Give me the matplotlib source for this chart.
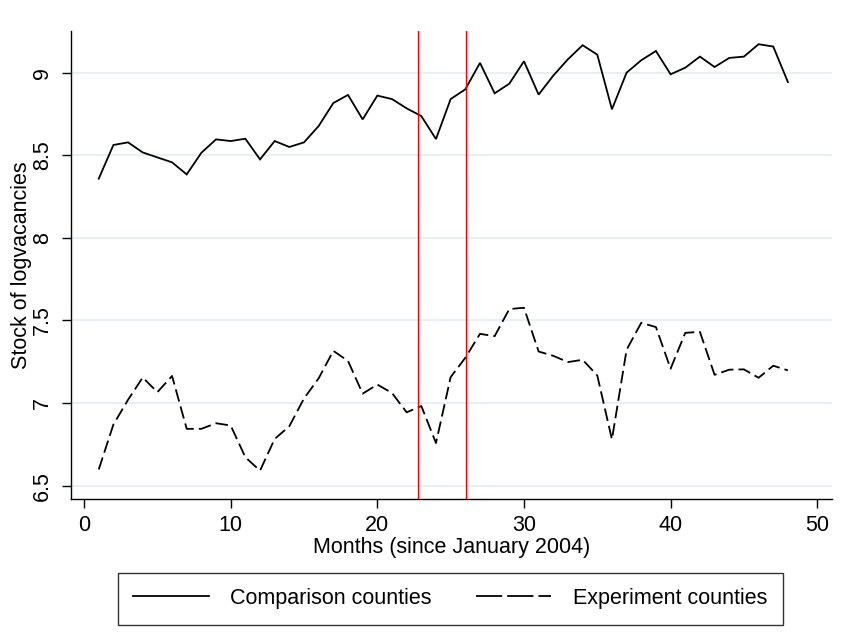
import matplotlib
matplotlib.use("Agg")
import matplotlib.pyplot as plt
from matplotlib.lines import Line2D

plt.rcParams['font.family'] = ['Liberation Sans', 'DejaVu Sans']

months = list(range(1, 49))
comparison = [8.358, 8.562, 8.578, 8.517, 8.487, 8.457, 8.384, 8.515, 8.596, 8.586,
              8.600, 8.475, 8.586, 8.550, 8.578, 8.677, 8.816, 8.865, 8.717, 8.861,
              8.840, 8.784, 8.737, 8.598, 8.840, 8.899, 9.059, 8.875, 8.933, 9.069,
              8.867, 8.982, 9.081, 9.166, 9.109, 8.778, 9.000, 9.075, 9.131, 8.990,
              9.030, 9.097, 9.034, 9.089, 9.097, 9.172, 9.158, 8.943]
experiment = [6.598, 6.870, 7.020, 7.155, 7.066, 7.164, 6.844, 6.844, 6.878, 6.864,
              6.672, 6.591, 6.783, 6.860, 7.028, 7.150, 7.316, 7.255, 7.057, 7.112,
              7.061, 6.944, 6.982, 6.758, 7.157, 7.274, 7.419, 7.405, 7.569, 7.577,
              7.312, 7.286, 7.248, 7.262, 7.167, 6.780, 7.323, 7.486, 7.460, 7.208,
              7.425, 7.431, 7.171, 7.202, 7.204, 7.153, 7.226, 7.198]
event_lines = [22.75, 26.05]
xticks = [0, 10, 20, 30, 40, 50]
yticks = [6.5, 7, 7.5, 8, 8.5, 9]
ytick_labels = ["6.5", "7", "7.5", "8", "8.5", "9"]

fig = plt.figure(figsize=(8.48, 6.38), dpi=100)
ax = fig.add_axes([0.0834, 0.2183, 0.8976, 0.7331])

for y in yticks:
    ax.axhline(y, color='#e4eef1', lw=1.2, zorder=0)

l1, = ax.plot(months, comparison, color='black', lw=1.3, solid_joinstyle='miter')
l2, = ax.plot(months, experiment, color='black', lw=1.3, linestyle=(0, (7, 2.8)))
for xv in event_lines:
    ax.axvline(xv, color='#ff0000', lw=1.0)

ax.set_xlim(-0.91, 51.0)
ax.set_ylim(6.421, 9.252)
ax.set_xticks(xticks)
ax.set_yticks(yticks)
ax.set_yticklabels(ytick_labels, rotation=90, va='center')
ax.tick_params(axis='both', direction='out', length=6.5, width=1, labelsize=15.5, color='black')
ax.tick_params(axis='y', pad=6)
ax.tick_params(axis='x', pad=5)
for s in ['top', 'right']:
    ax.spines[s].set_visible(False)
for s in ['left', 'bottom']:
    ax.spines[s].set_linewidth(1.0)

ax.set_xlabel("Months (since January 2004)", fontsize=15.5, labelpad=1)
ax.set_ylabel("Stock of logvacancies", fontsize=15.5, labelpad=0)

h1 = Line2D([], [], color='black', lw=1.3)
h2 = Line2D([], [], color='black', lw=1.3, linestyle=(0, (14.5, 2.8)))
leg = fig.legend([h1, h2], ["Comparison counties", "Experiment counties"],
                 loc='center', bbox_to_anchor=(0.531, 0.0619), ncol=2,
                 fontsize=15.5, frameon=True, fancybox=False, edgecolor='black',
                 handlelength=3.5, handletextpad=1.0, columnspacing=2.05,
                 borderpad=0.72)
leg.get_frame().set_linewidth(1.0)

fig.savefig("out.png", dpi=100)
